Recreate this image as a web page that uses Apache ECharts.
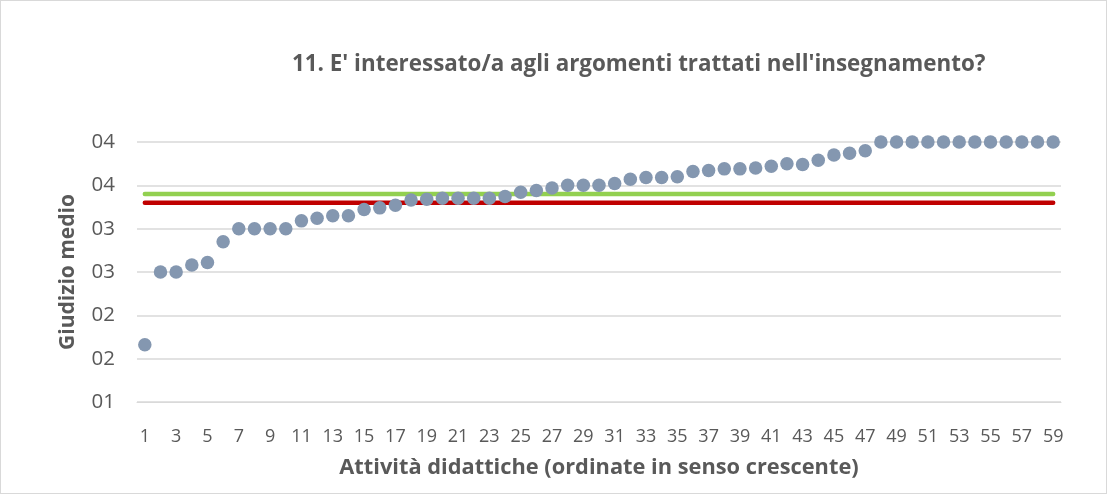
<!DOCTYPE html>
<html>
<head>
<meta charset="utf-8">
<script src="https://cdn.jsdelivr.net/npm/echarts@6/dist/echarts.min.js"></script>
<style>
html,body{margin:0;padding:0;background:#fff;}
#c{width:1105px;height:492px;border:1px solid #d9d9d9;}
</style>
</head>
<body>
<div id="c"></div>
<script>
const categories = Array.from({length: 59}, (_, i) => String(i + 1));
const giudizio = [
  1.66, 2.50, 2.50, 2.58, 2.61, 2.85, 3.00, 3.00, 3.00, 3.00,
  3.09, 3.12, 3.15, 3.15, 3.22, 3.24, 3.27, 3.33, 3.34, 3.35,
  3.35, 3.35, 3.35, 3.37, 3.42, 3.44, 3.47, 3.50, 3.50, 3.50,
  3.52, 3.57, 3.59, 3.59, 3.60, 3.66, 3.67, 3.69, 3.69, 3.70,
  3.72, 3.75, 3.74, 3.79, 3.85, 3.87, 3.90, 4.00, 4.00, 4.00,
  4.00, 4.00, 4.00, 4.00, 4.00, 4.00, 4.00, 4.00, 4.00
];
const mediaVerde = categories.map(() => 3.40);
const mediaRossa = categories.map(() => 3.30);
const yTickLabels = ['01', '02', '02', '03', '03', '04', '04'];

const textColor = '#595959';
const font = '"Open Sans", "Liberation Sans", sans-serif';
const chart = echarts.init(document.getElementById('c'));
chart.setOption({
  animation: false,
  title: {
    text: "11. E' interessato/a agli argomenti trattati nell'insegnamento?",
    left: 286, top: 48,
    textStyle: {fontFamily: font, fontSize: 22.4, fontWeight: 'bold', color: textColor}
  },
  grid: {left: 136, right: 45, top: 141, bottom: 91},
  xAxis: {
    type: 'category',
    data: categories,
    boundaryGap: true,
    axisLine: {show: true, lineStyle: {color: '#d9d9d9', width: 1}},
    axisTick: {show: false},
    axisLabel: {interval: 1, margin: 26, color: textColor, fontSize: 18, fontFamily: font},
    name: 'Attività didattiche (ordinate in senso crescente)',
    nameLocation: 'middle',
    nameGap: 55,
    nameTextStyle: {fontFamily: font, fontSize: 21.8, fontWeight: 'bold', color: textColor}
  },
  yAxis: {
    type: 'value',
    min: 1, max: 4, interval: 0.5,
    axisLine: {show: false},
    axisTick: {show: false},
    splitLine: {lineStyle: {color: '#d9d9d9', width: 1.5}},
    axisLabel: {
      margin: 22, color: textColor, fontSize: 20.5, fontFamily: font,
      formatter: (v) => yTickLabels[Math.round((v - 1) / 0.5)]
    },
    name: 'Giudizio medio',
    nameLocation: 'middle',
    nameGap: 58,
    nameTextStyle: {fontFamily: font, fontSize: 21, fontWeight: 'bold', color: textColor}
  },
  series: [
    {
      type: 'line', data: mediaVerde, symbol: 'none',
      lineStyle: {color: '#92d050', width: 4.5, cap: 'round'}, z: 1
    },
    {
      type: 'line', data: mediaRossa, symbol: 'none',
      lineStyle: {color: '#c00000', width: 4.5, cap: 'round'}, z: 1
    },
    {
      type: 'scatter', data: giudizio, symbol: 'circle', symbolSize: 13.5,
      itemStyle: {color: '#8497b0', opacity: 1}, z: 3
    }
  ]
});
</script>
</body>
</html>
